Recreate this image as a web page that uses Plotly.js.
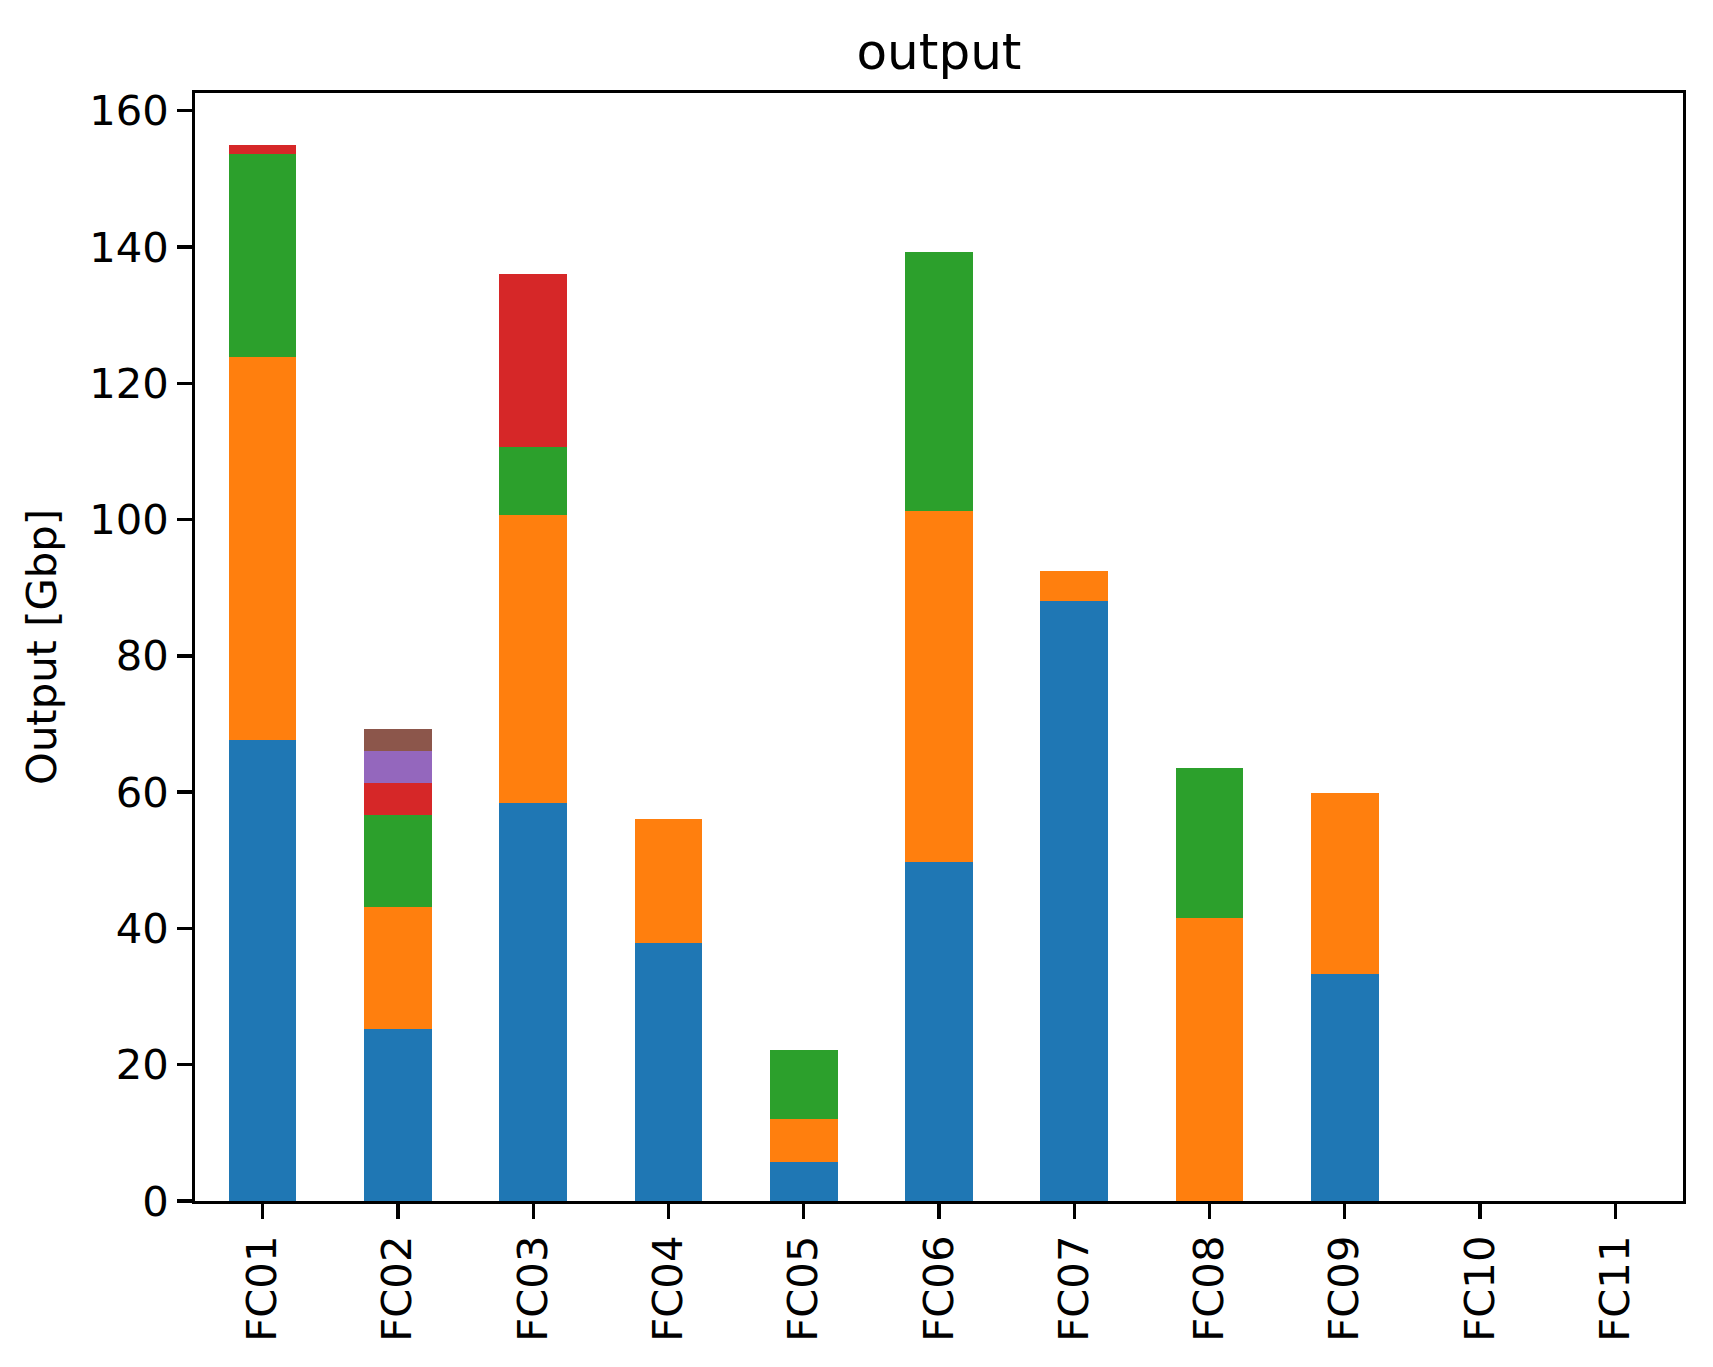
<!DOCTYPE html>
<html>
<head>
<meta charset="utf-8">
<script src="https://cdn.plot.ly/plotly-3.0.1.min.js"></script>
<style>
html, body { margin: 0; padding: 0; background: #ffffff; }
#chart { width: 1713px; height: 1367px; }
</style>
</head>
<body>
<div id="chart"></div>
<script>
const categories = ["FC01", "FC02", "FC03", "FC04", "FC05", "FC06", "FC07", "FC08", "FC09", "FC10", "FC11"];
const series0 = [67.6, 25.3, 58.4, 37.8, 5.7, 49.7, 88.0, 0, 33.3, 0, 0];
const series1 = [56.2, 17.9, 42.2, 18.3, 6.3, 51.5, 4.4, 41.6, 26.6, 0, 0];
const series2 = [29.8, 13.5, 10.1, 0, 10.1, 38.1, 0, 22.0, 0, 0, 0];
const series3 = [1.3, 4.7, 25.3, 0, 0, 0, 0, 0, 0, 0, 0];
const series4 = [0, 4.7, 0, 0, 0, 0, 0, 0, 0, 0, 0];
const series5 = [0, 3.1, 0, 0, 0, 0, 0, 0, 0, 0, 0];
const yTickValues = [0, 20, 40, 60, 80, 100, 120, 140, 160];

const allSeries = [series0, series1, series2, series3, series4, series5];
const colors = ["#1f77b4", "#ff7f0e", "#2ca02c", "#d62728", "#9467bd", "#8c564b"];

const traces = allSeries.map((vals, i) => ({
  type: "bar",
  x: categories.map((c, j) => j),
  y: vals,
  marker: { color: colors[i], line: { width: 0 } },
  showlegend: false,
  hoverinfo: "skip"
}));

const FONT = "DejaVu Sans, sans-serif";
const layout = {
  width: 1713,
  height: 1367,
  paper_bgcolor: "#ffffff",
  plot_bgcolor: "#ffffff",
  barmode: "stack",
  bargap: 0.5,
  margin: { l: 195, r: 30, t: 93, b: 166, autoexpand: false },
  font: { family: FONT, color: "#000000", size: 41.7 },
  title: {
    text: "output",
    font: { family: FONT, size: 50, color: "#000000" },
    x: 939 / 1713, xref: "container", xanchor: "center",
    y: 1 - 51 / 1367, yref: "container", yanchor: "middle"
  },
  xaxis: {
    range: [-0.5, 10.5],
    tickmode: "array",
    tickvals: categories.map((c, j) => j),
    ticktext: categories,
    tickangle: -90,
    ticks: "outside",
    ticklen: 14.6,
    tickwidth: 3.3,
    tickcolor: "#000000",
    tickfont: { family: FONT, size: 41.7, color: "#000000" },
    showline: true,
    linecolor: "#000000",
    linewidth: 3.3,
    mirror: true,
    showgrid: false,
    zeroline: false,
    automargin: false
  },
  yaxis: {
    range: [0, 162.6],
    tickmode: "array",
    tickvals: yTickValues,
    ticktext: yTickValues.map(String),
    ticks: "outside",
    ticklen: 14.6,
    tickwidth: 3.3,
    tickcolor: "#000000",
    tickfont: { family: FONT, size: 41.7, color: "#000000" },
    showline: true,
    linecolor: "#000000",
    linewidth: 3.3,
    mirror: true,
    showgrid: false,
    zeroline: false,
    automargin: false,
    title: { text: "Output [Gbp]", font: { family: FONT, size: 41.7, color: "#000000" }, standoff: 20 }
  }
};

Plotly.newPlot("chart", traces, layout, { staticPlot: true, displayModeBar: false });
</script>
</body>
</html>
